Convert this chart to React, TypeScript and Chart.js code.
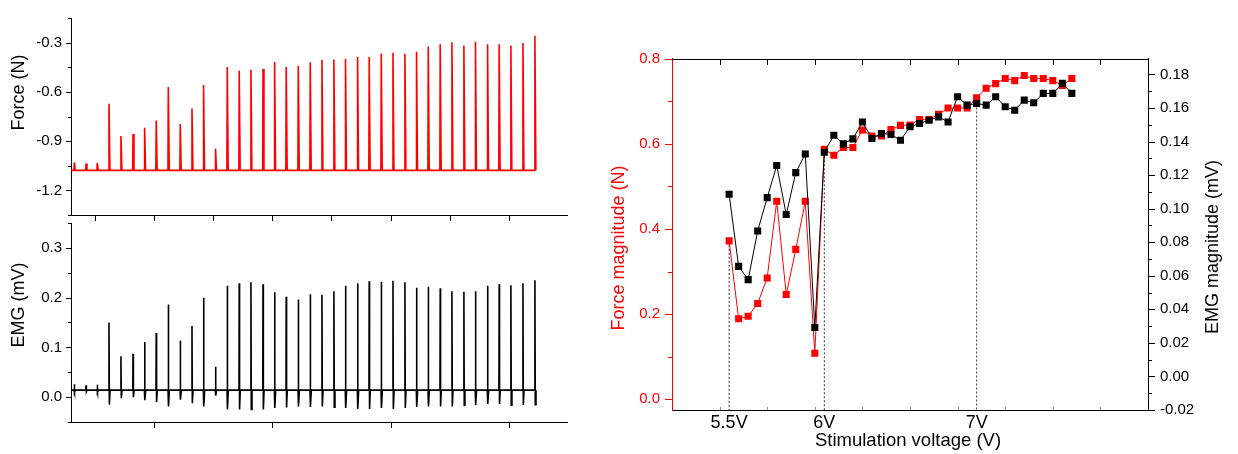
import React, { useEffect, useRef } from 'react';
import { Chart, registerables } from 'chart.js';

Chart.register(...registerables);

const FONT = "'Liberation Sans', Arial, Helvetica, sans-serif";

// ---------- Left panels: raw recordings ----------
const stimTimes = [0.28, 1.27, 2.22, 3.21, 4.22, 5.24, 6.22, 7.2, 8.22, 9.23, 10.22, 11.2, 12.21, 13.2, 14.21, 15.2, 16.22, 17.2, 18.18, 19.2, 20.21, 21.2, 22.21, 23.19, 24.21, 25.19, 26.21, 27.2, 28.21, 29.19, 30.18, 31.19, 32.18, 33.19, 34.17, 35.19, 36.17, 37.16, 38.18, 39.19];
const forceBaseline = -1.078;
const forcePeaks = [-1.03, -1.036, -1.032, -0.672, -0.869, -0.857, -0.819, -0.774, -0.571, -0.796, -0.701, -0.558, -0.947, -0.449, -0.472, -0.465, -0.461, -0.418, -0.449, -0.443, -0.42, -0.405, -0.403, -0.399, -0.387, -0.387, -0.366, -0.362, -0.368, -0.355, -0.323, -0.31, -0.298, -0.318, -0.294, -0.31, -0.31, -0.318, -0.302, -0.258];
const emgBaseline = 0.014;
const emgPeaks = [0.026, 0.024, 0.025, 0.15, 0.082, 0.087, 0.111, 0.129, 0.186, 0.114, 0.143, 0.2, 0.061, 0.224, 0.229, 0.231, 0.227, 0.211, 0.202, 0.196, 0.207, 0.206, 0.213, 0.224, 0.229, 0.233, 0.232, 0.234, 0.231, 0.22, 0.222, 0.219, 0.213, 0.212, 0.213, 0.224, 0.227, 0.225, 0.229, 0.235];
const emgTroughs = [0.01, 0.011, 0.01, -0.015, -0.002, 0.0, -0.006, -0.01, -0.019, -0.005, -0.012, -0.019, 0.003, -0.025, -0.025, -0.025, -0.025, -0.022, -0.021, -0.019, -0.02, -0.019, -0.02, -0.022, -0.024, -0.024, -0.022, -0.024, -0.022, -0.02, -0.019, -0.019, -0.019, -0.016, -0.016, -0.014, -0.014, -0.016, -0.016, -0.015];

const forceTickVals = [-1.35, -1.2, -1.05, -0.9, -0.75, -0.6, -0.45, -0.3, -0.15];
const forceTickLabels = [-1.2, -0.9, -0.6, -0.3];
const emgTickVals = [-0.05, 0, 0.05, 0.1, 0.15, 0.2, 0.25, 0.3, 0.35];
const emgTickLabels = [0, 0.1, 0.2, 0.3];
const timeTickVals = [2, 7, 12, 17, 22, 27, 32, 37];
const timeMajorTicks = [7, 17, 27, 37];

// ---------- Right panel: magnitudes vs stimulation ----------
const stimNumber = [1, 2, 3, 4, 5, 6, 7, 8, 9, 10, 11, 12, 13, 14, 15, 16, 17, 18, 19, 20, 21, 22, 23, 24, 25, 26, 27, 28, 29, 30, 31, 32, 33, 34, 35, 36, 37];
const forceMag = [0.372, 0.189, 0.195, 0.225, 0.285, 0.465, 0.246, 0.352, 0.465, 0.108, 0.587, 0.573, 0.591, 0.591, 0.632, 0.618, 0.618, 0.633, 0.643, 0.644, 0.657, 0.657, 0.669, 0.684, 0.684, 0.684, 0.708, 0.73, 0.741, 0.753, 0.748, 0.76, 0.753, 0.753, 0.748, 0.737, 0.753];
const emgMag = [0.1086, 0.0656, 0.0577, 0.0867, 0.1066, 0.1257, 0.0965, 0.1215, 0.1326, 0.0292, 0.1336, 0.1438, 0.1386, 0.1416, 0.1517, 0.1418, 0.1448, 0.1442, 0.1408, 0.1488, 0.1508, 0.1527, 0.1547, 0.1517, 0.1667, 0.1617, 0.1627, 0.1617, 0.1667, 0.1607, 0.1587, 0.1647, 0.1631, 0.1687, 0.1687, 0.1747, 0.1687];
const voltageMarks = [1, 11, 27];
const voltageLabels = ['5.5V', '6V', '7V'];
const dropFrom = ['force', 'emg', 'emg'];

const forceMagTickVals = [0, 0.1, 0.2, 0.3, 0.4, 0.5, 0.6, 0.7, 0.8];
const forceMagTickLabels = [0, 0.2, 0.4, 0.6, 0.8];
const emgMagTickVals = [-0.02, -0.01, 0, 0.01, 0.02, 0.03, 0.04, 0.05, 0.06, 0.07, 0.08, 0.09, 0.1, 0.11, 0.12, 0.13, 0.14, 0.15, 0.16, 0.17, 0.18];
const emgMagTickLabels = [-0.02, 0, 0.02, 0.04, 0.06, 0.08, 0.1, 0.12, 0.14, 0.16, 0.18];
const stimTickVals = [0, 5, 10, 15, 20, 25, 30, 35, 40];

type Pt = { x: number; y: number };

function buildForceTrace(): Pt[] {
  const pts: Pt[] = [{ x: 0, y: forceBaseline }];
  stimTimes.forEach((t, i) => {
    pts.push({ x: t - 0.03, y: forceBaseline });
    pts.push({ x: t, y: forcePeaks[i] });
    pts.push({ x: t + 0.08, y: forceBaseline });
  });
  return pts;
}

function buildEmgTrace(): Pt[] {
  const pts: Pt[] = [{ x: 0, y: emgBaseline }];
  stimTimes.forEach((t, i) => {
    pts.push({ x: t - 0.02, y: emgBaseline });
    pts.push({ x: t, y: emgPeaks[i] });
    pts.push({ x: t + 0.03, y: emgTroughs[i] });
    pts.push({ x: t + 0.09, y: emgBaseline });
  });
  return pts;
}

type TickSpec = {
  scale: string;
  edge: 'left' | 'right' | 'top' | 'bottom';
  values: number[];
  major: number[];
  majorLen: number;
  minorLen: number;
  dir: 1 | -1;
  color: string;
};
type TitleSpec = { text: string; x: number; y: number; rot: number; color: string; size: number; baseline: CanvasTextBaseline };

const near = (a: number, b: number) => Math.abs(a - b) < 1e-9;

function decoPlugin(ticks: TickSpec[], titles: TitleSpec[], topFrame: boolean) {
  return {
    id: 'deco',
    afterDraw(chart: any) {
      const ctx: CanvasRenderingContext2D = chart.ctx;
      const a = chart.chartArea;
      ctx.save();
      if (topFrame) {
        ctx.strokeStyle = '#000';
        ctx.lineWidth = 1;
        ctx.beginPath();
        const y = Math.round(a.top) + 0.5;
        ctx.moveTo(Math.round(a.left), y);
        ctx.lineTo(Math.round(a.right) + 1, y);
        ctx.stroke();
      }
      for (const t of ticks) {
        const s = chart.scales[t.scale];
        ctx.strokeStyle = t.color;
        ctx.lineWidth = 1;
        ctx.beginPath();
        for (const v of t.values) {
          const len = t.major.some((m) => near(m, v)) ? t.majorLen : t.minorLen;
          const p = Math.round(s.getPixelForValue(v)) + 0.5;
          if (t.edge === 'left' || t.edge === 'right') {
            const x0 = Math.round(t.edge === 'left' ? a.left : a.right);
            const sign = (t.edge === 'left' ? -1 : 1) * t.dir;
            ctx.moveTo(x0, p);
            ctx.lineTo(x0 + sign * len, p);
          } else {
            const y0 = Math.round(t.edge === 'top' ? a.top : a.bottom);
            const sign = (t.edge === 'top' ? -1 : 1) * t.dir;
            ctx.moveTo(p, y0);
            ctx.lineTo(p, y0 + sign * len);
          }
        }
        ctx.stroke();
      }
      for (const ti of titles) {
        ctx.save();
        ctx.translate(ti.x, ti.y);
        ctx.rotate(ti.rot);
        ctx.fillStyle = ti.color;
        ctx.font = `${ti.size}px ${FONT}`;
        ctx.textAlign = 'center';
        ctx.textBaseline = ti.baseline;
        ctx.fillText(ti.text, 0, 0);
        ctx.restore();
      }
      ctx.restore();
    },
  };
}

const noGrid = { display: false, drawTicks: false };

function makeTraceChart(
  canvas: HTMLCanvasElement,
  data: Pt[],
  color: string,
  yMin: number,
  yMax: number,
  labelVals: number[],
  tickVals: number[],
  bottomTicks: number[],
  padTop: number,
  xHeight: number,
  title: string,
  titleY: number,
) {
  return new Chart(canvas, {
    type: 'line',
    data: {
      datasets: [
        {
          data,
          borderColor: color,
          borderWidth: 1.6,
          pointRadius: 0,
          tension: 0,
          fill: false,
        },
      ],
    },
    options: {
      animation: false,
      responsive: false,
      events: [],
      layout: { padding: { top: padTop, right: 33, left: 0, bottom: 0 } },
      plugins: { legend: { display: false }, tooltip: { enabled: false } },
      scales: {
        x: {
          type: 'linear',
          min: 0,
          max: 41.9,
          grid: noGrid,
          border: { display: true, color: '#000', width: 1 },
          ticks: { display: false },
          afterFit: (s: any) => {
            s.height = xHeight;
          },
        },
        y: {
          type: 'linear',
          min: yMin,
          max: yMax,
          grid: noGrid,
          border: { display: true, color: '#000', width: 1 },
          afterBuildTicks: (s: any) => {
            s.ticks = labelVals.map((v) => ({ value: v }));
          },
          ticks: {
            color: '#000',
            font: { family: FONT, size: 15 },
            padding: 9,
            callback: (v: any) => Number(v).toFixed(1),
          },
          afterFit: (s: any) => {
            s.width = 71;
          },
        },
      },
    } as any,
    plugins: [
      decoPlugin(
        [
          { scale: 'y', edge: 'left', values: tickVals, major: labelVals, majorLen: 5, minorLen: 3, dir: 1, color: '#000' },
          { scale: 'x', edge: 'bottom', values: bottomTicks, major: bottomTicks, majorLen: 6, minorLen: 6, dir: 1, color: '#000' },
        ],
        [{ text: title, x: 19, y: titleY, rot: -Math.PI / 2, color: '#000', size: 18, baseline: 'middle' }],
        false,
      ) as any,
    ],
  });
}

function makeMagChart(canvas: HTMLCanvasElement) {
  const forcePts = stimNumber.map((n, i) => ({ x: n, y: forceMag[i] }));
  const emgPts = stimNumber.map((n, i) => ({ x: n, y: emgMag[i] }));
  const dropSets = voltageMarks.map((n, k) => {
    const idx = stimNumber.indexOf(n);
    const isForce = dropFrom[k] === 'force';
    return {
      data: [
        { x: n, y: isForce ? forceMag[idx] : emgMag[idx] },
        { x: n, y: isForce ? -0.025 : -0.02 },
      ],
      yAxisID: isForce ? 'yF' : 'yE',
      borderColor: '#333',
      borderWidth: 1,
      borderDash: [2, 2],
      pointRadius: 0,
      order: 5,
    };
  });
  return new Chart(canvas, {
    type: 'line',
    data: {
      datasets: [
        {
          data: emgPts,
          yAxisID: 'yE',
          borderColor: '#000',
          backgroundColor: '#000',
          borderWidth: 1,
          pointStyle: 'rect',
          pointRadius: 5,
          pointBorderWidth: 0,
          pointBackgroundColor: '#000',
          tension: 0,
          order: 0,
        },
        {
          data: forcePts,
          yAxisID: 'yF',
          borderColor: '#ff0000',
          backgroundColor: '#ff0000',
          borderWidth: 1,
          pointStyle: 'rect',
          pointRadius: 5,
          pointBorderWidth: 0,
          pointBackgroundColor: '#ff0000',
          tension: 0,
          order: 1,
        },
        ...dropSets,
      ],
    },
    options: {
      animation: false,
      responsive: false,
      events: [],
      layout: { padding: { top: 58.5, right: 0, left: 0, bottom: 0 } },
      plugins: { legend: { display: false }, tooltip: { enabled: false } },
      scales: {
        x: {
          type: 'linear',
          min: -5,
          max: 45,
          grid: noGrid,
          border: { display: true, color: '#000', width: 1 },
          afterBuildTicks: (s: any) => {
            s.ticks = voltageMarks.map((v) => ({ value: v }));
          },
          ticks: {
            color: '#000',
            font: { family: FONT, size: 18 },
            padding: 2,
            autoSkip: false,
            maxRotation: 0,
            callback: (_v: any, i: number) => voltageLabels[i],
          },
          afterFit: (s: any) => {
            s.height = 44;
          },
        },
        yF: {
          type: 'linear',
          position: 'left',
          min: -0.025,
          max: 0.8,
          grid: noGrid,
          border: { display: true, color: '#ff0000', width: 1 },
          afterBuildTicks: (s: any) => {
            s.ticks = forceMagTickLabels.map((v) => ({ value: v }));
          },
          ticks: {
            color: '#ff0000',
            font: { family: FONT, size: 15 },
            padding: 12,
            callback: (v: any) => Number(v).toFixed(1),
          },
          afterFit: (s: any) => {
            s.width = 72;
          },
        },
        yE: {
          type: 'linear',
          position: 'right',
          min: -0.02,
          max: 0.1895,
          grid: noGrid,
          border: { display: true, color: '#000', width: 1 },
          afterBuildTicks: (s: any) => {
            s.ticks = emgMagTickLabels.map((v) => ({ value: v }));
          },
          ticks: {
            color: '#000',
            font: { family: FONT, size: 15 },
            padding: 12,
            callback: (v: any) => Number(v).toFixed(2),
          },
          afterFit: (s: any) => {
            s.width = 90;
          },
        },
      },
    } as any,
    plugins: [
      decoPlugin(
        [
          { scale: 'yF', edge: 'left', values: forceMagTickVals, major: forceMagTickLabels, majorLen: 7, minorLen: 4, dir: 1, color: '#ff0000' },
          { scale: 'yE', edge: 'right', values: emgMagTickVals, major: emgMagTickLabels, majorLen: 7, minorLen: 4, dir: 1, color: '#000' },
          { scale: 'x', edge: 'top', values: stimTickVals, major: stimTickVals, majorLen: 6, minorLen: 6, dir: -1, color: '#000' },
          { scale: 'x', edge: 'bottom', values: stimTickVals, major: stimTickVals, majorLen: 3, minorLen: 3, dir: -1, color: '#999' },
        ],
        [
          { text: 'Force magnitude (N)', x: 19, y: 248, rot: -Math.PI / 2, color: '#ff0000', size: 18, baseline: 'middle' },
          { text: 'EMG magnitude (mV)', x: 613, y: 247, rot: -Math.PI / 2, color: '#000', size: 18, baseline: 'middle' },
          { text: 'Stimulation voltage (V)', x: 308, y: 446, rot: 0, color: '#000', size: 18.5, baseline: 'alphabetic' },
        ],
        true,
      ) as any,
    ],
  });
}

export default function App() {
  const fRef = useRef<HTMLCanvasElement>(null);
  const eRef = useRef<HTMLCanvasElement>(null);
  const rRef = useRef<HTMLCanvasElement>(null);

  useEffect(() => {
    const charts: Chart[] = [];
    if (fRef.current) {
      charts.push(
        makeTraceChart(fRef.current, buildForceTrace(), '#ff0000', -1.35, -0.15, forceTickLabels, forceTickVals, timeTickVals, 8.5, 25, 'Force (N)', 92.5),
      );
    }
    if (eRef.current) {
      charts.push(
        makeTraceChart(eRef.current, buildEmgTrace(), '#000', -0.05, 0.35, emgTickLabels, emgTickVals, timeMajorTicks, 10, 32, 'EMG (mV)', 100),
      );
    }
    if (rRef.current) charts.push(makeMagChart(rRef.current));
    return () => charts.forEach((c) => c.destroy());
  }, []);

  return (
    <div style={{ position: 'absolute', left: 0, top: 0, width: 1238, height: 454, background: '#fff', overflow: 'hidden' }}>
      <canvas ref={fRef} width={600} height={240} style={{ position: 'absolute', left: 0, top: 0 }} />
      <canvas ref={eRef} width={600} height={249} style={{ position: 'absolute', left: 0, top: 205 }} />
      <canvas ref={rRef} width={638} height={454} style={{ position: 'absolute', left: 600, top: 0 }} />
    </div>
  );
}
